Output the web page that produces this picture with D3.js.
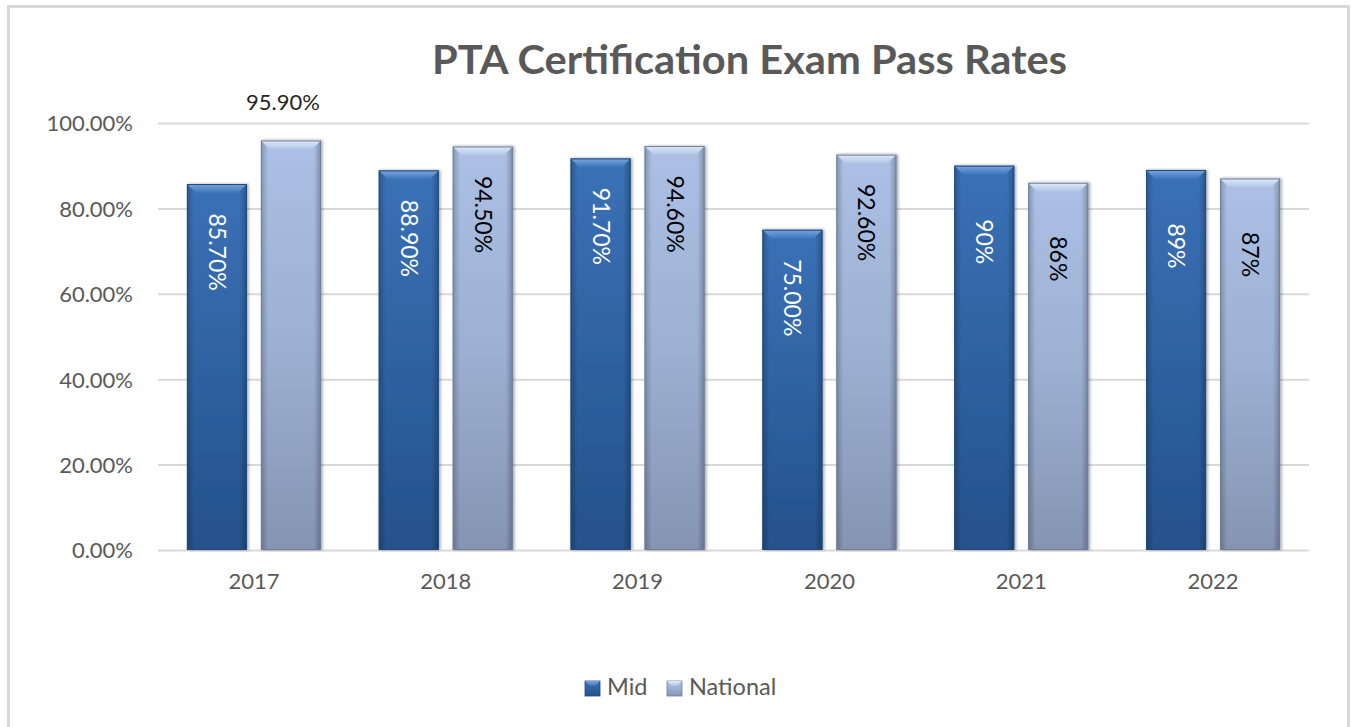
<!DOCTYPE html>
<html>
<head>
<meta charset="utf-8">
<script src="https://cdn.jsdelivr.net/npm/d3@7"></script>
<style>
  body { margin: 0; background: #fff; }
  text { font-family: Lato, "Open Sans", sans-serif; }
</style>
</head>
<body>
<div id="chart"></div>
<script>
// chart data
const years = ['2017', '2018', '2019', '2020', '2021', '2022'];
const seriesNames = ['Mid', 'National'];
const midRates = [0.857, 0.889, 0.917, 0.75, 0.90, 0.89];
const nationalRates = [0.959, 0.945, 0.946, 0.926, 0.86, 0.87];
const midLabels = ['85.70%', '88.90%', '91.70%', '75.00%', '90%', '89%'];
const nationalLabels = ['95.90%', '94.50%', '94.60%', '92.60%', '86%', '87%'];
const yTicks = [0, 0.2, 0.4, 0.6, 0.8, 1.0];

const W = 1351, H = 727;
const plot = { left: 158, right: 1309, top: 123, bottom: 550 };

const svg = d3.select('#chart').append('svg')
  .attr('width', W)
  .attr('height', H);

const defs = svg.append('defs');

function vGrad(id, stops) {
  const g = defs.append('linearGradient')
    .attr('id', id)
    .attr('x1', 0).attr('y1', 0).attr('x2', 0).attr('y2', 1);
  stops.forEach(s => g.append('stop').attr('offset', s[0]).attr('stop-color', s[1]));
}
function hGrad(id, stops) {
  const g = defs.append('linearGradient')
    .attr('id', id)
    .attr('x1', 0).attr('y1', 0).attr('x2', 1).attr('y2', 0);
  stops.forEach(s => g.append('stop').attr('offset', s[0]).attr('stop-color', s[1]).attr('stop-opacity', s[2]));
}

vGrad('midBody', [[0, '#3a71b6'], [0.5, '#2f62a2'], [1, '#25518a']]);
vGrad('midBevel', [[0, '#7aa6df'], [1, '#3d74b8']]);
vGrad('natBody', [[0, '#abc0e4'], [0.5, '#9cb0d3'], [1, '#8594b2']]);
vGrad('natBevel', [[0, '#e2ebf8'], [1, '#aec3e6']]);
hGrad('sideShade', [[0, '#000', 0.22], [0.12, '#000', 0], [0.88, '#000', 0], [1, '#000', 0.25]]);

const shadow = defs.append('filter').attr('id', 'shadow')
  .attr('x', '-20%').attr('y', '-10%').attr('width', '140%').attr('height', '120%');
shadow.append('feDropShadow')
  .attr('dx', 1.5).attr('dy', 0)
  .attr('stdDeviation', 1.5)
  .attr('flood-color', '#000')
  .attr('flood-opacity', 0.35);

// outer frame
svg.append('rect')
  .attr('x', 8.5).attr('y', 6.5)
  .attr('width', 1340).attr('height', 740)
  .attr('fill', '#fff')
  .attr('stroke', '#d9d9d9')
  .attr('stroke-width', 3);

// title
svg.append('text')
  .attr('x', 749.5).attr('y', 74)
  .attr('text-anchor', 'middle')
  .attr('font-size', 40)
  .attr('font-weight', 'bold')
  .attr('fill', '#595959')
  .attr('textLength', 635)
  .attr('lengthAdjust', 'spacingAndGlyphs')
  .text('PTA Certification Exam Pass Rates');

// scales
const x = d3.scaleBand()
  .domain(years)
  .range([plot.left, plot.right]);

const x1 = d3.scaleBand()
  .domain(seriesNames)
  .range([x.bandwidth() / 2 - 67, x.bandwidth() / 2 + 67])
  .paddingInner(14 / 74);

const y = d3.scaleLinear()
  .domain([0, 1])
  .range([plot.bottom, plot.top]);

// gridlines + y axis
const yAxis = d3.axisLeft(y)
  .tickValues(yTicks)
  .tickSize(-(plot.right - plot.left))
  .tickPadding(25)
  .tickFormat(d3.format('.2%'));

const yg = svg.append('g')
  .attr('transform', `translate(${plot.left},0)`)
  .call(yAxis);
yg.select('.domain').remove();
yg.selectAll('.tick line')
  .attr('stroke', '#d9d9d9')
  .attr('stroke-width', 2);
yg.selectAll('.tick text')
  .attr('font-size', 22)
  .attr('fill', '#595959')
  .attr('dy', '0.36em');

// x axis labels
const xAxis = d3.axisBottom(x).tickSize(0).tickPadding(23);
const xg = svg.append('g')
  .attr('transform', `translate(0,${plot.bottom})`)
  .call(xAxis);
xg.select('.domain').remove();
xg.selectAll('.tick text')
  .attr('font-size', 22)
  .attr('fill', '#595959');

// bars
const rows = [];
years.forEach((yr, i) => {
  rows.push({ year: yr, series: 'Mid', value: midRates[i], label: midLabels[i] });
  rows.push({ year: yr, series: 'National', value: nationalRates[i], label: nationalLabels[i] });
});

const style = {
  Mid: { body: 'url(#midBody)', bevel: 'url(#midBevel)', stroke: '#204a7e', text: '#ffffff' },
  National: { body: 'url(#natBody)', bevel: 'url(#natBevel)', stroke: '#6f7e9b', text: '#000000' }
};

const bars = svg.append('g').selectAll('g.bar')
  .data(rows)
  .enter()
  .append('g')
  .attr('class', 'bar')
  .attr('filter', 'url(#shadow)');

bars.each(function(d) {
  const g = d3.select(this);
  const x0 = x(d.year) + x1(d.series);
  const w = x1.bandwidth();
  const top = y(d.value);
  const h = plot.bottom - top;
  const s = style[d.series];
  const b = 9;

  g.append('rect')
    .attr('x', x0).attr('y', top)
    .attr('width', w).attr('height', h)
    .attr('fill', s.body);
  g.append('rect')
    .attr('x', x0).attr('y', top)
    .attr('width', w).attr('height', h)
    .attr('fill', 'url(#sideShade)');
  g.append('polygon')
    .attr('points', [[x0, top], [x0 + w, top], [x0 + w - b, top + b], [x0 + b, top + b]].join(' '))
    .attr('fill', s.bevel);
  g.append('rect')
    .attr('x', x0 + 0.5).attr('y', top + 0.5)
    .attr('width', w - 1).attr('height', h - 1)
    .attr('fill', 'none')
    .attr('stroke', s.stroke)
    .attr('stroke-width', 1);
});

// data labels
const labels = svg.append('g');
rows.forEach(d => {
  const cx = x(d.year) + x1(d.series) + x1.bandwidth() / 2;
  const top = y(d.value);
  if (d.value > 0.95) {
    // label sits above the plot, horizontal
    labels.append('text')
      .attr('x', cx - 8).attr('y', 110)
      .attr('text-anchor', 'middle')
      .attr('font-size', 22)
      .attr('fill', '#262626')
      .text(d.label);
  } else {
    const off = d.label.length > 4 ? 68 : 76;
    labels.append('text')
      .attr('transform', `translate(${cx},${top + off}) rotate(90)`)
      .attr('text-anchor', 'middle')
      .attr('dy', '0.35em')
      .attr('font-size', 23)
      .attr('fill', style[d.series].text)
      .text(d.label);
  }
});

// legend
const legendItems = [
  { name: 'Mid', x: 585 },
  { name: 'National', x: 667 }
];
const legend = svg.append('g');
legendItems.forEach(it => {
  const s = style[it.name];
  legend.append('rect')
    .attr('x', it.x).attr('y', 681)
    .attr('width', 15).attr('height', 15)
    .attr('fill', s.body)
    .attr('stroke', s.stroke)
    .attr('stroke-width', 0.8);
  legend.append('polygon')
    .attr('points', [[it.x, 681], [it.x + 15, 681], [it.x + 10, 686], [it.x + 5, 686]].join(' '))
    .attr('fill', s.bevel);
  legend.append('text')
    .attr('x', it.x + 22).attr('y', 695)
    .attr('font-size', 23.5)
    .attr('fill', '#595959')
    .text(it.name);
});
</script>
</body>
</html>
